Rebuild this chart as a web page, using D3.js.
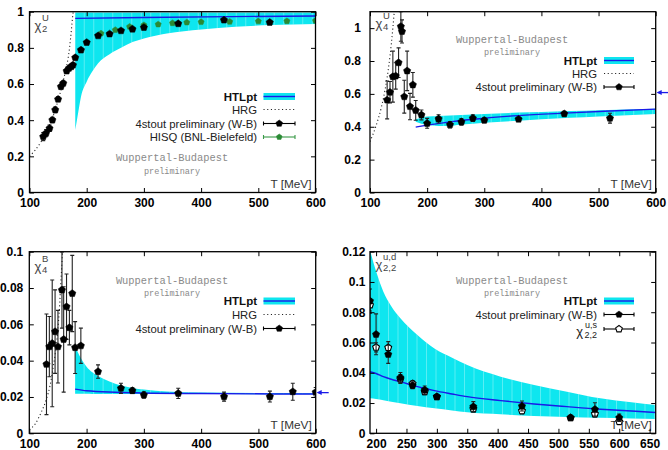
<!DOCTYPE html>
<html>
<head>
<meta charset="utf-8">
<script src="https://cdn.jsdelivr.net/npm/d3@7"></script>
<style>
body { margin: 0; background: #fff; }
svg { display: block; font-family: "Liberation Sans", Arial, sans-serif; }
</style>
</head>
<body>
<svg id="chart" width="668" height="450"></svg>
<script>

// ---- chi2 U (top left) ----
const chi2T = [124, 129, 135, 140, 145, 150, 155, 159, 165, 169, 173, 176, 180, 190, 200, 220, 240, 260, 280, 300, 360, 440, 520]
const chi2V = [0.309, 0.328, 0.355, 0.401, 0.457, 0.516, 0.586, 0.604, 0.672, 0.687, 0.696, 0.705, 0.746, 0.788, 0.83, 0.867, 0.877, 0.895, 0.904, 0.913, 0.934, 0.954, 0.941]
const chi2E = [0.022, 0.02, 0.018, 0.015, 0.015, 0.013, 0.012, 0.012, 0.011, 0.01, 0.01, 0.01, 0.01, 0.009, 0.008, 0.008, 0.007, 0.007, 0.007, 0.006, 0.006, 0.006, 0.007]
const hisqT = [225, 250, 275, 300, 325, 350, 375, 400, 450, 500, 550, 600]
const hisqV = [0.880, 0.899, 0.917, 0.926, 0.930, 0.937, 0.941, 0.943, 0.945, 0.947, 0.948, 0.950]
const hrg2T = [100, 110, 120, 130, 140, 150, 160, 170, 176, 180]
const hrg2V = [0.2, 0.235, 0.28, 0.34, 0.41, 0.51, 0.63, 0.8, 0.99, 1.1]
const band2T = [180, 185, 190, 200, 210, 220, 240, 260, 280, 300, 340, 400, 460, 520, 600]
const band2Lo = [0.345, 0.44, 0.53, 0.613, 0.67, 0.715, 0.765, 0.80, 0.832, 0.852, 0.88, 0.902, 0.917, 0.926, 0.932]
const band2Hi = [0.995, 0.995, 0.995, 0.995, 0.995, 0.995, 0.995, 0.995, 0.995, 0.995, 0.995, 0.995, 0.995, 0.995, 0.995]
const line2T = [180, 300, 450, 600]
const line2V = [0.963, 0.968, 0.973, 0.976]

// ---- chi4 U (top right) ----
const chi4T = [130, 135, 140, 145, 150, 154, 156, 160, 165, 170, 175, 180, 190, 200, 220, 240, 260, 280, 300, 360, 440, 520]
const chi4V = [0.563, 0.61, 0.705, 0.709, 0.79, 1.01, 0.98, 0.583, 0.74, 0.523, 0.655, 0.50, 0.472, 0.421, 0.448, 0.412, 0.43, 0.452, 0.44, 0.446, 0.479, 0.452]
const chi4E = [0.115, 0.065, 0.155, 0.08, 0.09, 0.09, 0.07, 0.10, 0.12, 0.08, 0.075, 0.06, 0.03, 0.03, 0.025, 0.02, 0.02, 0.02, 0.015, 0.012, 0.015, 0.03]
const hrg4T = [100, 110, 120, 125, 130, 135, 140, 143]
const hrg4V = [0.31, 0.40, 0.52, 0.60, 0.70, 0.83, 1.0, 1.12]
const band4T = [180, 190, 200, 220, 240, 260, 300, 360, 400, 450, 500, 600]
const band4Lo = [0.43, 0.418, 0.412, 0.405, 0.405, 0.413, 0.425, 0.437, 0.445, 0.455, 0.463, 0.478]
const band4Hi = [0.445, 0.455, 0.462, 0.466, 0.468, 0.472, 0.478, 0.486, 0.49, 0.496, 0.501, 0.51]
const line4T = [180, 200, 240, 300, 360, 440, 520, 600]
const line4V = [0.398, 0.41, 0.43, 0.452, 0.468, 0.483, 0.496, 0.507]
const sb4 = 0.608

// ---- chi4 B (bottom left) ----
const chiBT = [130, 135, 140, 145, 150, 157, 160, 165, 170, 175, 180, 190, 220, 260, 280, 300, 360, 440, 520, 560, 600]
const chiBV = [0.038, 0.0477, 0.0495, 0.056, 0.0477, 0.0789, 0.0517, 0.0697, 0.0582, 0.077, 0.0472, 0.0482, 0.034, 0.0248, 0.0235, 0.0211, 0.022, 0.0202, 0.0202, 0.0229, 0.0226]
const chiBE = [0.0277, 0.0166, 0.0349, 0.023, 0.02, 0.021, 0.029, 0.018, 0.0095, 0.021, 0.0143, 0.0097, 0.0037, 0.0028, 0.0015, 0.0018, 0.0028, 0.0025, 0.003, 0.0047, 0.0026]
const hrgBT = [100, 110, 120, 130, 136, 142, 148, 152, 156, 158]
const hrgBV = [0.002, 0.005, 0.011, 0.019, 0.026, 0.037, 0.051, 0.066, 0.088, 0.1]
const bandBT = [180, 190, 200, 210, 220, 240, 260, 280, 300, 340, 400, 500, 600]
const bandBLo = [0.0218, 0.0218, 0.0218, 0.0217, 0.0217, 0.0217, 0.0216, 0.0216, 0.0216, 0.0216, 0.0216, 0.0215, 0.0215]
const bandBHi = [0.0477, 0.0415, 0.0367, 0.0336, 0.0315, 0.0285, 0.0263, 0.025, 0.0241, 0.023, 0.0224, 0.0222, 0.0221]
const lineBT = [180, 200, 250, 300, 400, 600]
const lineBV = [0.0243, 0.0234, 0.0226, 0.0222, 0.0219, 0.0216]
const sbB = 0.0224

// ---- chi22 ud / us (bottom right) ----
const chi22T = [190, 200, 220, 240, 260, 280, 300, 360, 440, 520, 560, 600]
const chiUdV = [0.0874, 0.0654, 0.0522, 0.0368, 0.0317, 0.0286, 0.0242, 0.0176, 0.018, 0.0103, 0.0158, 0.0103]
const chiUdE = [0.008, 0.0135, 0.006, 0.0034, 0.0022, 0.0027, 0.0013, 0.0033, 0.0033, 0.0017, 0.0044, 0.0024]
const chiUsV = [0.0848, 0.0568, 0.0566, 0.0359, 0.0328, 0.0275, 0.0242, 0.0161, 0.0148, 0.0103, 0.0128, 0.0077]
const chiUsE = [0.004, 0.003, 0.004, 0.003, 0.002, 0.002, 0.001, 0.002, 0.002, 0.001, 0.002, 0.002]
const band22T = [190, 200, 212, 225, 240, 268, 296, 325, 350, 405, 460, 514, 569, 620, 660]
const band22Lo = [0.0231, 0.0226, 0.0218, 0.0208, 0.0198, 0.018, 0.0165, 0.0151, 0.0139, 0.0126, 0.0114, 0.0108, 0.0102, 0.0098, 0.0095]
const band22Hi = [0.121, 0.107, 0.0936, 0.084, 0.076, 0.065, 0.0561, 0.050, 0.0451, 0.0374, 0.0319, 0.0275, 0.0231, 0.0205, 0.0187]
const line22V = [0.0407, 0.0395, 0.0374, 0.0357, 0.0341, 0.0308, 0.0282, 0.026, 0.0242, 0.0216, 0.0194, 0.0176, 0.0159, 0.0147, 0.0137]

const CYAN = "#0ee6ef"
const BLUE = "#1a1ae8"
const GREEN = "#2a8a34"

const svg = d3.select("#chart")
svg.append("rect").attr("width", 668).attr("height", 450).attr("fill", "#fff")

function pentagon(r) {
	const pts = d3.range(5).map(k => {
		const a = -Math.PI / 2 + k * 2 * Math.PI / 5
		return [r * Math.cos(a), r * Math.sin(a)]
	})
	return "M" + pts.map(p => p.join(",")).join("L") + "Z"
}

function drawPanel(p) {
	const x = d3.scaleLinear().domain(p.xDomain).range([p.left, p.right])
	const y = d3.scaleLinear().domain(p.yDomain).range([p.bottom, p.top])
	const g = svg.append("g")

	const clipId = "clip-" + p.id
	svg.append("clipPath").attr("id", clipId).append("rect")
		.attr("x", p.left).attr("y", p.top)
		.attr("width", p.right - p.left).attr("height", p.bottom - p.top)
	const plot = g.append("g").attr("clip-path", `url(#${clipId})`)

	// HTLpt band
	const bandData = d3.zip(p.bandT, p.bandLo, p.bandHi)
	const area = d3.area()
		.x(d => x(d[0])).y0(d => y(d[1])).y1(d => y(d[2]))
		.curve(d3.curveMonotoneX)
	const bandClip = "band-" + p.id
	svg.append("clipPath").attr("id", bandClip).append("path").attr("d", area(bandData))
	plot.append("path").attr("d", area(bandData)).attr("fill", CYAN)
	// faint seams of the filled curve
	const x0 = x(p.bandT[0]), x1 = x(p.bandT[p.bandT.length - 1])
	plot.append("g").attr("clip-path", `url(#${bandClip})`)
		.selectAll("line").data(d3.range(x0 + 9, x1, 9.5)).join("line")
		.attr("x1", d => d).attr("x2", d => d)
		.attr("y1", p.top).attr("y2", p.bottom)
		.attr("stroke", "#fff").attr("stroke-opacity", 0.45).attr("stroke-width", 0.7)

	const line = d3.line().x(d => x(d[0])).y(d => y(d[1])).curve(d3.curveMonotoneX)
	plot.append("path").attr("d", line(d3.zip(p.lineT, p.lineV)))
		.attr("fill", "none").attr("stroke", BLUE).attr("stroke-width", 1.4)

	// HRG
	if (p.hrgT) {
		plot.append("path").attr("d", line(d3.zip(p.hrgT, p.hrgV)))
			.attr("fill", "none").attr("stroke", "#222").attr("stroke-width", 1.1)
			.attr("stroke-dasharray", "1.1,2.6")
	}

	// data series with error bars
	p.series.forEach(s => {
		const pts = d3.zip(s.T, s.V, s.E)
		const eg = plot.append("g").attr("stroke", s.barColor).attr("stroke-width", 1.1)
		eg.selectAll("line.bar").data(pts).join("line").attr("class", "bar")
			.attr("x1", d => x(d[0])).attr("x2", d => x(d[0]))
			.attr("y1", d => y(d[1] - d[2])).attr("y2", d => y(d[1] + d[2]))
		eg.selectAll("line.caplo").data(pts).join("line").attr("class", "caplo")
			.attr("x1", d => x(d[0]) - 2).attr("x2", d => x(d[0]) + 2)
			.attr("y1", d => y(d[1] - d[2])).attr("y2", d => y(d[1] - d[2]))
		eg.selectAll("line.caphi").data(pts).join("line").attr("class", "caphi")
			.attr("x1", d => x(d[0]) - 2).attr("x2", d => x(d[0]) + 2)
			.attr("y1", d => y(d[1] + d[2])).attr("y2", d => y(d[1] + d[2]))
		plot.append("g").selectAll("path").data(pts).join("path")
			.attr("d", pentagon(s.r))
			.attr("transform", d => `translate(${x(d[0])},${y(d[1])})`)
			.attr("fill", s.open ? "#fff" : s.color)
			.attr("stroke", s.color).attr("stroke-width", s.open ? 1.1 : 0.5)
	})

	// watermark
	g.append("text").attr("x", p.wm[0]).attr("y", p.wm[1])
		.attr("text-anchor", "middle").attr("font-family", "'Liberation Mono', monospace")
		.attr("font-size", 10.4).attr("fill", "#8a8a8a").text("Wuppertal-Budapest")
	g.append("text").attr("x", p.wm[0]).attr("y", p.wm[1] + 12.5)
		.attr("text-anchor", "middle").attr("font-family", "'Liberation Mono', monospace")
		.attr("font-size", 8.5).attr("fill", "#8a8a8a").text("preliminary")

	// legend
	const lg = g.append("g")
	p.legend.forEach((item, i) => {
		const ry = p.legRows[i]
		const sx0 = p.legX[0], sx1 = p.legX[1]
		if (item.kind === "band") {
			lg.append("text").attr("x", p.legText).attr("y", ry + 4)
				.attr("text-anchor", "end").attr("font-size", 11.5).attr("font-weight", "bold")
				.attr("fill", "#111").text(item.label)
			lg.append("rect").attr("x", sx0).attr("y", ry - 3.5).attr("width", sx1 - sx0).attr("height", 7).attr("fill", CYAN)
			lg.append("line").attr("x1", sx0).attr("x2", sx1).attr("y1", ry).attr("y2", ry)
				.attr("stroke", BLUE).attr("stroke-width", 1.4)
			return
		}
		if (item.chi) {
			lg.append("text").attr("x", p.legText - 14).attr("y", ry + 7).attr("text-anchor", "end")
				.attr("font-size", 13).attr("fill", "#222").text("χ")
			lg.append("text").attr("x", p.legText).attr("y", ry + 8.5).attr("text-anchor", "end")
				.attr("font-size", 9).attr("fill", "#222").text("2,2")
			lg.append("text").attr("x", p.legText).attr("y", ry - 1).attr("text-anchor", "end")
				.attr("font-size", 9).attr("fill", "#222").text("u,s")
		} else {
			lg.append("text").attr("x", p.legText).attr("y", ry + 4)
				.attr("text-anchor", "end").attr("font-size", 11.3)
				.attr("fill", "#222").text(item.label)
		}
		if (item.kind === "hrg") {
			lg.append("line").attr("x1", sx0).attr("x2", sx1).attr("y1", ry).attr("y2", ry)
				.attr("stroke", "#222").attr("stroke-width", 1.1).attr("stroke-dasharray", "1.1,2.6")
		} else {
			const c = item.color
			lg.append("line").attr("x1", sx0).attr("x2", sx1).attr("y1", ry).attr("y2", ry)
				.attr("stroke", item.lineColor).attr("stroke-width", 1.1)
			;[sx0, sx1].forEach(xx => lg.append("line").attr("x1", xx).attr("x2", xx)
				.attr("y1", ry - 2).attr("y2", ry + 2).attr("stroke", item.lineColor).attr("stroke-width", 1.1))
			lg.append("path").attr("d", pentagon(item.r))
				.attr("transform", `translate(${(sx0 + sx1) / 2},${ry})`)
				.attr("fill", item.open ? "#fff" : c).attr("stroke", c).attr("stroke-width", item.open ? 1.1 : 0.5)
		}
	})

	// observable label
	const ol = p.obs
	g.append("text").attr("x", ol.x).attr("y", ol.y).attr("font-size", 13).attr("fill", "#444").text("χ")
	g.append("text").attr("x", ol.x + 7.5).attr("y", ol.y - 9).attr("font-size", 9.5).attr("fill", "#444").text(ol.sup)
	g.append("text").attr("x", ol.x + 7.5).attr("y", ol.y + 2).attr("font-size", 9.5).attr("fill", "#444").text(ol.sub)

	// x label
	g.append("text").attr("x", p.right - 4).attr("y", p.bottom - 4.5)
		.attr("text-anchor", "end").attr("font-size", 11.8).attr("fill", "#333").text(p.xLabel)

	// axes with inward ticks on all sides
	const fmt = d3.format("~g")
	const ax = (gen, tr) => g.append("g").attr("transform", tr).call(gen)
		.call(a => a.select(".domain").remove())
		.call(a => a.selectAll("line").attr("stroke", "#000").attr("stroke-width", 1))
	const bottomAx = ax(d3.axisBottom(x).tickValues(p.xTicks).tickSize(-4.5).tickPadding(6.3).tickFormat(fmt), `translate(0,${p.bottom})`)
	ax(d3.axisTop(x).tickValues(p.xTicks).tickSize(-4.5).tickFormat(""), `translate(0,${p.top})`)
	const leftAx = ax(d3.axisLeft(y).tickValues(p.yTicks).tickSize(-4.5).tickPadding(p.yPad).tickFormat(fmt), `translate(${p.left},0)`)
	ax(d3.axisRight(y).tickValues(p.yTicks).tickSize(-4.5).tickFormat(""), `translate(${p.right},0)`)
	;[bottomAx, leftAx].forEach(a => a.selectAll("text")
		.attr("font-family", "'Liberation Sans', Arial, sans-serif")
		.attr("font-size", 12).attr("font-weight", "bold").attr("fill", "#000"))

	g.append("rect").attr("x", p.left).attr("y", p.top)
		.attr("width", p.right - p.left).attr("height", p.bottom - p.top)
		.attr("fill", "none").attr("stroke", "#000").attr("stroke-width", 1.3)

	// Stefan-Boltzmann limit arrow
	if (p.sb !== undefined) {
		const ay = y(p.sb)
		g.append("line").attr("x1", p.right + 13).attr("x2", p.right + 2).attr("y1", ay).attr("y2", ay)
			.attr("stroke", BLUE).attr("stroke-width", 1.3)
		g.append("path").attr("d", `M${p.right + 1},${ay}L${p.right + 6},${ay - 2.5}L${p.right + 6},${ay + 2.5}Z`)
			.attr("fill", BLUE)
	}
}

const stout = (T, V, E) => ({ T, V, E, color: "#000", barColor: "#222", r: 3.8 })

drawPanel({
	id: "a", left: 29.5, right: 315.5, top: 11.7, bottom: 192.5,
	xDomain: [100, 600], yDomain: [0, 1],
	xTicks: d3.range(100, 601, 100), yTicks: [0, 0.2, 0.4, 0.6, 0.8, 1], yPad: 5.5,
	bandT: band2T, bandLo: band2Lo, bandHi: band2Hi, lineT: line2T, lineV: line2V,
	hrgT: hrg2T, hrgV: hrg2V,
	series: [
		{ T: hisqT, V: hisqV, E: hisqT.map(() => 0.004), color: GREEN, barColor: GREEN, r: 3.2 },
		stout(chi2T, chi2V, chi2E)
	],
	wm: [172, 161],
	legText: 257, legX: [263.5, 295], legRows: [96.5, 109.5, 123.5, 137],
	legend: [
		{ kind: "band", label: "HTLpt" },
		{ kind: "hrg", label: "HRG" },
		{ kind: "pts", label: "4stout preliminary (W-B)", color: "#000", lineColor: "#000", r: 3.5 },
		{ kind: "pts", label: "HISQ (BNL-Bielefeld)", color: GREEN, lineColor: "#3a9a48", r: 3 }
	],
	obs: { x: 34.5, y: 29.5, sup: "U", sub: "2" },
	xLabel: "T [MeV]"
})

drawPanel({
	id: "b", left: 370, right: 655.7, top: 11.7, bottom: 192.5,
	xDomain: [100, 600], yDomain: [0, 1.1],
	xTicks: d3.range(100, 601, 100), yTicks: [0, 0.2, 0.4, 0.6, 0.8, 1], yPad: 9,
	bandT: band4T, bandLo: band4Lo, bandHi: band4Hi, lineT: line4T, lineV: line4V,
	hrgT: hrg4T, hrgV: hrg4V,
	series: [stout(chi4T, chi4V, chi4E)],
	wm: [512, 42.5],
	legText: 597, legX: [604, 634], legRows: [60.5, 73.5, 87],
	legend: [
		{ kind: "band", label: "HTLpt" },
		{ kind: "hrg", label: "HRG" },
		{ kind: "pts", label: "4stout preliminary (W-B)", color: "#000", lineColor: "#000", r: 3.5 }
	],
	obs: { x: 375.5, y: 27.5, sup: "U", sub: "4" },
	xLabel: "T [MeV]",
	sb: sb4
})

drawPanel({
	id: "c", left: 29.3, right: 315.7, top: 251.7, bottom: 433.3,
	xDomain: [100, 600], yDomain: [0, 0.1],
	xTicks: d3.range(100, 601, 100), yTicks: [0, 0.02, 0.04, 0.06, 0.08, 0.1], yPad: 6,
	bandT: bandBT, bandLo: bandBLo, bandHi: bandBHi, lineT: lineBT, lineV: lineBV,
	hrgT: hrgBT, hrgV: hrgBV,
	series: [stout(chiBT, chiBV, chiBE)],
	wm: [172, 283.5],
	legText: 257, legX: [263.5, 295], legRows: [301, 314.5, 328.5],
	legend: [
		{ kind: "band", label: "HTLpt" },
		{ kind: "hrg", label: "HRG" },
		{ kind: "pts", label: "4stout preliminary (W-B)", color: "#000", lineColor: "#000", r: 3.5 }
	],
	obs: { x: 34.5, y: 270.5, sup: "B", sub: "4" },
	xLabel: "T [MeV]",
	sb: sbB
})

drawPanel({
	id: "d", left: 370, right: 655.7, top: 251.7, bottom: 433.3,
	xDomain: [190, 660], yDomain: [0, 0.12],
	xTicks: d3.range(200, 651, 50), yTicks: [0, 0.02, 0.04, 0.06, 0.08, 0.1, 0.12], yPad: 4.5,
	bandT: band22T, bandLo: band22Lo, bandHi: band22Hi, lineT: band22T, lineV: line22V,
	series: [
		{ T: chi22T, V: chiUsV, E: chiUsE, color: "#000", barColor: "#222", r: 3.6, open: true },
		stout(chi22T, chiUdV, chiUdE)
	],
	wm: [512, 283.5],
	legText: 597, legX: [604, 634], legRows: [301, 314.5, 329],
	legend: [
		{ kind: "band", label: "HTLpt" },
		{ kind: "pts", label: "4stout preliminary (W-B)", color: "#000", lineColor: "#000", r: 3.5 },
		{ kind: "pts", chi: true, label: "", color: "#000", lineColor: "#000", r: 3.5, open: true }
	],
	obs: { x: 375.5, y: 269, sup: "u,d", sub: "2,2" },
	xLabel: "T [MeV]"
})
</script>
</body>
</html>
